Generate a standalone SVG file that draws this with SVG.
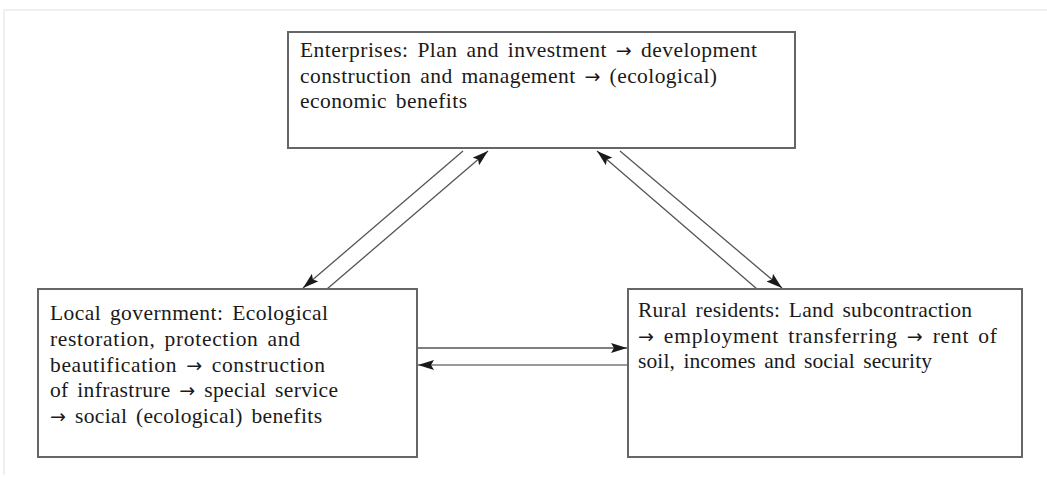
<svg xmlns="http://www.w3.org/2000/svg" width="1047" height="479" viewBox="0 0 1047 479">
  <defs>
    <marker id="head" viewBox="0 0 16 10" refX="16" refY="5" markerWidth="16" markerHeight="10" markerUnits="userSpaceOnUse" orient="auto">
      <path d="M0,0 L16,5 L0,10 L3,5 Z" fill="#1a1a1a"/>
    </marker>
  </defs>
  <style>
    .box { fill: #ffffff; stroke: #666666; stroke-width: 2; }
    .lbl { font-family: "Liberation Serif", "Times New Roman", serif; font-size: 21.5px; fill: #1a1a1a; word-spacing: 3px; }
    .arr { font-family: "DejaVu Sans", sans-serif; font-size: 19px; }
    .link { stroke: #555555; stroke-width: 1.3; fill: none; marker-end: url(#head); }
    .link.light { stroke: #9a9a9a; stroke-width: 2; }
    .frame { fill: none; stroke: #ececec; stroke-width: 1.5; }
  </style>

  <rect width="1047" height="479" fill="#ffffff"/>
  <!-- page frame -->
  <path class="frame" d="M4,475 L4,10 L1047,10"/>

  <g id="connectors">
    <!-- enterprises <-> local government -->
    <line class="link" x1="463" y1="151" x2="303" y2="288"/>
    <line class="link" x1="327" y1="289" x2="488" y2="151"/>
    <!-- enterprises <-> rural residents -->
    <line class="link" x1="757" y1="289" x2="597" y2="151"/>
    <line class="link" x1="620" y1="151" x2="782" y2="288"/>
    <!-- local government <-> rural residents -->
    <line class="link" x1="418" y1="348" x2="627" y2="348"/>
    <line class="link light" x1="627" y1="365" x2="418" y2="365"/>
  </g>

  <g id="enterprises">
    <rect class="box" x="288" y="32" width="507" height="116"/>
    <text class="lbl" x="300" y="57" textLength="457" lengthAdjust="spacing">Enterprises: Plan and investment <tspan class="arr">→</tspan> development</text>
    <text class="lbl" x="300" y="83" textLength="417" lengthAdjust="spacing">construction and management <tspan class="arr">→</tspan> (ecological)</text>
    <text class="lbl" x="300" y="108" textLength="167" lengthAdjust="spacing">economic benefits</text>
  </g>

  <g id="local-government">
    <rect class="box" x="38" y="289" width="379" height="168"/>
    <text class="lbl" x="50" y="320" textLength="278" lengthAdjust="spacing">Local government: Ecological</text>
    <text class="lbl" x="50" y="346" textLength="250" lengthAdjust="spacing">restoration, protection and</text>
    <text class="lbl" x="50" y="372" textLength="275" lengthAdjust="spacing">beautification <tspan class="arr">→</tspan> construction</text>
    <text class="lbl" x="50" y="397" textLength="288" lengthAdjust="spacing">of infrastrure <tspan class="arr">→</tspan> special service</text>
    <text class="lbl" x="50" y="423" textLength="272" lengthAdjust="spacing"><tspan class="arr">→</tspan> social (ecological) benefits</text>
  </g>

  <g id="rural-residents">
    <rect class="box" x="628" y="289" width="394" height="168"/>
    <text class="lbl" x="638" y="317" textLength="334" lengthAdjust="spacing">Rural residents: Land subcontraction</text>
    <text class="lbl" x="638" y="343" textLength="359" lengthAdjust="spacing"><tspan class="arr">→</tspan> employment transferring <tspan class="arr">→</tspan> rent of</text>
    <text class="lbl" x="638" y="368" textLength="294" lengthAdjust="spacing">soil, incomes and social security</text>
  </g>
</svg>
